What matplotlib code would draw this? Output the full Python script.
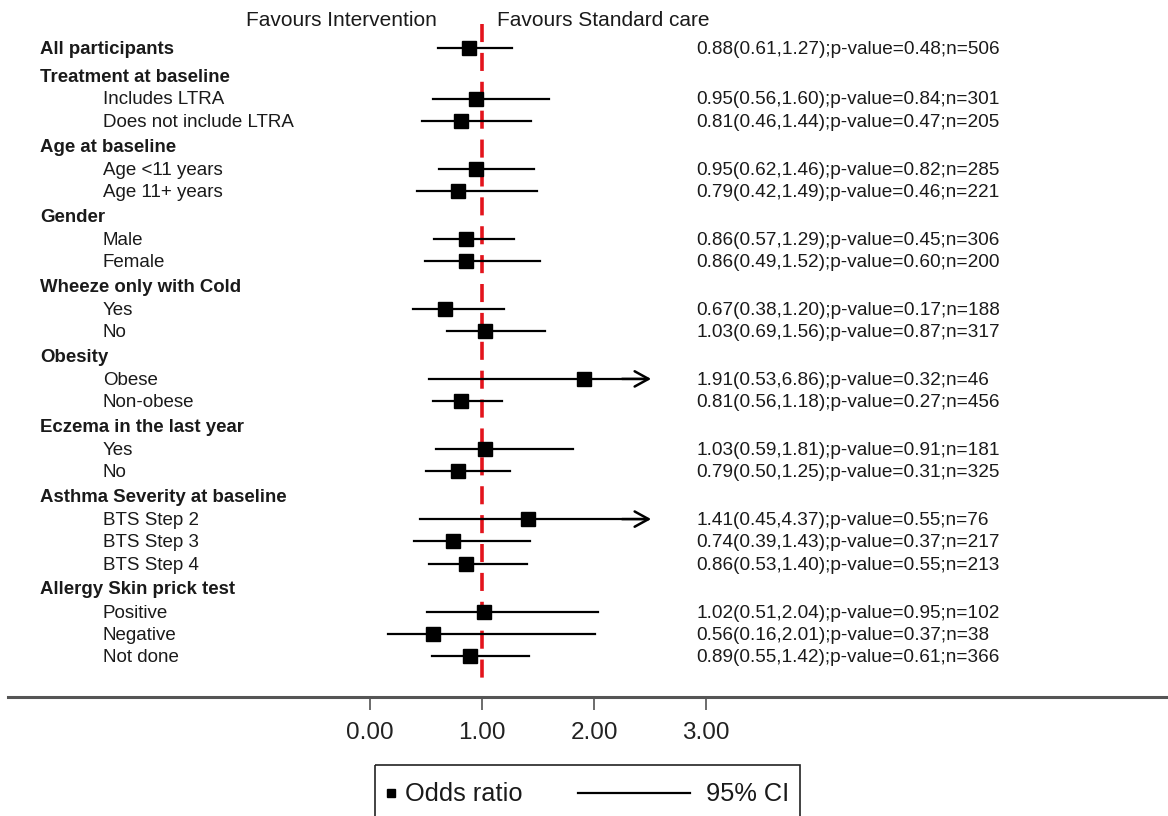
import matplotlib
matplotlib.use("Agg")
import matplotlib.pyplot as plt
from matplotlib.lines import Line2D
from matplotlib.patches import Rectangle
from matplotlib.transforms import Affine2D

plt.rcParams['font.family'] = ['Liberation Sans', 'DejaVu Sans']

# ---- data -------------------------------------------------------------
overall_label = "All participants"
overall_or, overall_lo, overall_hi, overall_p, overall_n = 0.88, 0.61, 1.27, 0.48, 506

headers = ["Treatment at baseline", "Age at baseline", "Gender",
           "Wheeze only with Cold", "Obesity", "Eczema in the last year",
           "Asthma Severity at baseline", "Allergy Skin prick test"]

subgroups = ["Includes LTRA", "Does not include LTRA",
             "Age <11 years", "Age 11+ years",
             "Male", "Female",
             "Yes", "No",
             "Obese", "Non-obese",
             "Yes", "No",
             "BTS Step 2", "BTS Step 3", "BTS Step 4",
             "Positive", "Negative", "Not done"]
subgroup_header = [0, 0, 1, 1, 2, 2, 3, 3, 4, 4, 5, 5, 6, 6, 6, 7, 7, 7]

odds = [0.95, 0.81, 0.95, 0.79, 0.86, 0.86, 0.67, 1.03, 1.91, 0.81,
        1.03, 0.79, 1.41, 0.74, 0.86, 1.02, 0.56, 0.89]
ci_lo = [0.56, 0.46, 0.62, 0.42, 0.57, 0.49, 0.38, 0.69, 0.53, 0.56,
         0.59, 0.50, 0.45, 0.39, 0.53, 0.51, 0.16, 0.55]
ci_hi = [1.60, 1.44, 1.46, 1.49, 1.29, 1.52, 1.20, 1.56, 6.86, 1.18,
         1.81, 1.25, 4.37, 1.43, 1.40, 2.04, 2.01, 1.42]
pvals = [0.84, 0.47, 0.82, 0.46, 0.45, 0.60, 0.17, 0.87, 0.32, 0.27,
         0.91, 0.31, 0.55, 0.37, 0.55, 0.95, 0.37, 0.61]
counts = [301, 205, 285, 221, 306, 200, 188, 317, 46, 456,
          181, 325, 76, 217, 213, 102, 38, 366]

x_ticks = [0, 1, 2, 3]
x_ticklabels = ["0.00", "1.00", "2.00", "3.00"]
x_clip = 2.5

# ---- layout -----------------------------------------------------------
W, H = 1168, 816
fig = plt.figure(figsize=(W / 100, H / 100), dpi=100)

ax_left_px, ax_bottom_px = 8, 697
ax = fig.add_axes([ax_left_px / W, (H - ax_bottom_px) / H,
                   (W - ax_left_px) / W, ax_bottom_px / H])
px_per_unit = 112.0
x0_px = 370.0
ax.set_xlim((ax_left_px - x0_px) / px_per_unit, (W - x0_px) / px_per_unit)
# vertical coordinate: pixels from the top of the figure
ax.set_ylim(ax_bottom_px, 0)

for s in ["top", "left", "right"]:
    ax.spines[s].set_visible(False)
ax.spines["bottom"].set_color("#555555")
ax.spines["bottom"].set_linewidth(2.2)
ax.set_yticks([])
ax.set_xticks(x_ticks)
ax.set_xticklabels(x_ticklabels, fontsize=17.5, color="#222222")
ax.tick_params(axis="x", direction="out", length=9, width=1.1,
               color="#444444", pad=9)

# ---- build the rows ---------------------------------------------------
rows = []  # (label, bold, or, lo, hi, p, n, y)
y = 48.0
rows.append((overall_label, True, overall_or, overall_lo, overall_hi,
             overall_p, overall_n, y))
for hi_idx, h in enumerate(headers):
    y += 27.5 if hi_idx == 0 else 24.8
    rows.append((h, True, None, None, None, None, None, y))
    first = True
    for i, g in enumerate(subgroup_header):
        if g == hi_idx:
            y += 23.0 if first else 22.3
            first = False
            rows.append((subgroups[i], False, odds[i], ci_lo[i], ci_hi[i],
                         pvals[i], counts[i], y))

text_col = "#1a1a1a"
label_x_header = (40 - x0_px) / px_per_unit
label_x_sub = (103 - x0_px) / px_per_unit
stat_x = (696 - x0_px) / px_per_unit
dy_text = 1.5

for lab, bold, o, lo, hi, p, n, y in rows:
    if bold:
        ax.text(label_x_header, y + dy_text, lab, fontsize=13.4,
                fontweight="bold", va="center", ha="left", color=text_col)
    else:
        ax.text(label_x_sub, y + dy_text, lab, fontsize=13.5, va="center",
                ha="left", color=text_col)
    if o is None:
        continue
    if hi > x_clip:
        ax.plot([lo, x_clip - 0.05], [y, y], color="black", lw=1.6, zorder=3)
        ax.annotate("", xy=(x_clip + 0.01, y), xytext=(x_clip - 0.25, y),
                    arrowprops=dict(arrowstyle="->,head_length=1.0,head_width=0.55",
                                    color="black", lw=1.8, shrinkA=0, shrinkB=0),
                    zorder=3)
    else:
        ax.plot([lo, hi], [y, y], color="black", lw=1.6, zorder=3)
    ax.plot([o], [y], marker="s", markersize=10, color="black", zorder=4)
    ax.text(stat_x, y + dy_text,
            f"{o:.2f}({lo:.2f},{hi:.2f});p-value={p:.2f};n={n}",
            fontsize=13.7, va="center", ha="left", color=text_col)

# reference line at OR = 1
ax.plot([1, 1], [24, 681], color="#e3141c", lw=2.6,
        linestyle=(0, (5, 3)), zorder=2)

# direction labels
ax.text(1 - 45 / px_per_unit, 20, "Favours Intervention", fontsize=15,
        ha="right", va="center", color=text_col)
ax.text(1 + 15 / px_per_unit, 20, "Favours Standard care", fontsize=15,
        ha="left", va="center", color=text_col)

# ---- legend box -------------------------------------------------------
tr = Affine2D().scale(1, -1).translate(0, H)  # top-left pixel coords
fig.patches.append(Rectangle((375, 765), 425, 80, transform=tr, fill=False,
                             edgecolor="#222222", lw=1.2))
fig.lines.append(Line2D([391], [793], transform=tr, marker="s", markersize=6,
                        color="black", linestyle="none"))
fig.text(405 / W, 1 - 794 / H, "Odds ratio", fontsize=18.3, va="center",
         ha="left", color=text_col)
fig.lines.append(Line2D([578, 690], [793, 793], transform=tr, color="black",
                        lw=1.6))
fig.text(706 / W, 1 - 794 / H, "95% CI", fontsize=18.3, va="center",
         ha="left", color=text_col)

fig.savefig("out.png", dpi=100, facecolor="white")
